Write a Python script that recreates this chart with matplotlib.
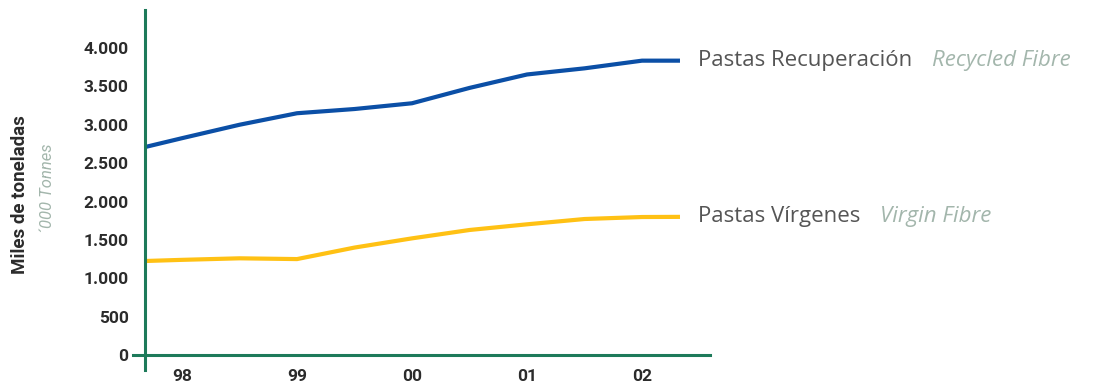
import matplotlib
matplotlib.use("Agg")
import matplotlib.pyplot as plt
from matplotlib import font_manager
from matplotlib.ticker import FuncFormatter

# ---- data (thousand tonnes) ----
years = [1997.68, 1998.0, 1998.5, 1999.0, 1999.5, 2000.0, 2000.5,
         2001.0, 2001.5, 2002.0, 2002.33]
recycled = [2710, 2825, 3000, 3150, 3205, 3280, 3480, 3655, 3735, 3835, 3835]
virgin = [1225, 1240, 1260, 1250, 1400, 1520, 1629, 1703, 1772, 1798, 1800]

year_ticks = [1998, 1999, 2000, 2001, 2002]
year_labels = ["98", "99", "00", "01", "02"]
y_ticks = [0, 500, 1000, 1500, 2000, 2500, 3000, 3500, 4000]

series_es = ["Pastas Recuperación", "Pastas Vírgenes"]
series_en = ["Recycled Fibre", "Virgin Fibre"]
ylabel_es = "Miles de toneladas"
ylabel_en = "´000 Tonnes"

BLUE = "#0B4FA6"
YELLOW = "#FFC114"
GREEN = "#1D7A5A"
DARK = "#2b2b2b"
GREY = "#555555"
PALE = "#A3B6AC"

installed = {f.name for f in font_manager.fontManager.ttflist}
narrow = [f for f in ["Liberation Sans Narrow", "Roboto", "DejaVu Sans"] if f in installed]
roundish = [f for f in ["Open Sans", "Lato", "DejaVu Sans"] if f in installed]

fig = plt.figure(figsize=(11.01, 3.88), dpi=100)
ax = fig.add_axes([133 / 1101, 18 / 388, (710 - 133) / 1101, (370 - 10) / 388])

ax.plot(years, recycled, color=BLUE, lw=3.0, solid_capstyle="butt")
ax.plot(years, virgin, color=YELLOW, lw=3.0, solid_capstyle="butt")

ax.set_xlim(1997.574, 2002.591)
ax.set_ylim(-195, 4495)

for s in ["top", "right"]:
    ax.spines[s].set_visible(False)
ax.spines["left"].set_position(("data", years[0]))
ax.spines["bottom"].set_position(("data", 0))
for s in ["left", "bottom"]:
    ax.spines[s].set_color(GREEN)
    ax.spines[s].set_linewidth(2.2)

ax.set_xticks(year_ticks)
ax.set_xticklabels(year_labels)
ax.set_yticks(y_ticks)
ax.yaxis.set_major_formatter(FuncFormatter(lambda v, p: f"{int(v):,}".replace(",", ".")))
ax.tick_params(axis="both", length=0, colors=DARK)
ax.tick_params(axis="y", pad=12)
ax.tick_params(axis="x", pad=10)
for lab in ax.get_xticklabels() + ax.get_yticklabels():
    lab.set_fontfamily(narrow)
    lab.set_fontweight("bold")
    lab.set_fontsize(12.5)

# axis titles
fig.text(20 / 1101, 1 - 195 / 388, ylabel_es, rotation=90, ha="center", va="center",
         family=narrow, weight="bold", fontsize=13.5, color=DARK)
fig.text(47 / 1101, 1 - 188 / 388, ylabel_en, rotation=90, ha="center", va="center",
         family=narrow, style="italic", fontsize=12, color=PALE)

# series names at the line ends
label_x = 2002.487
for vals, es, en in zip([recycled, virgin], series_es, series_en):
    t = ax.text(label_x, vals[-1], es, ha="left", va="center", family=roundish,
                fontsize=16, color=GREY, clip_on=False)
    ax.annotate(en, xy=(1, 0), xycoords=t, xytext=(14, 0), textcoords="offset points",
                ha="left", va="bottom", family=roundish, style="italic",
                fontsize=16, color=PALE, annotation_clip=False)

fig.savefig("out.png", dpi=100, facecolor="white")
